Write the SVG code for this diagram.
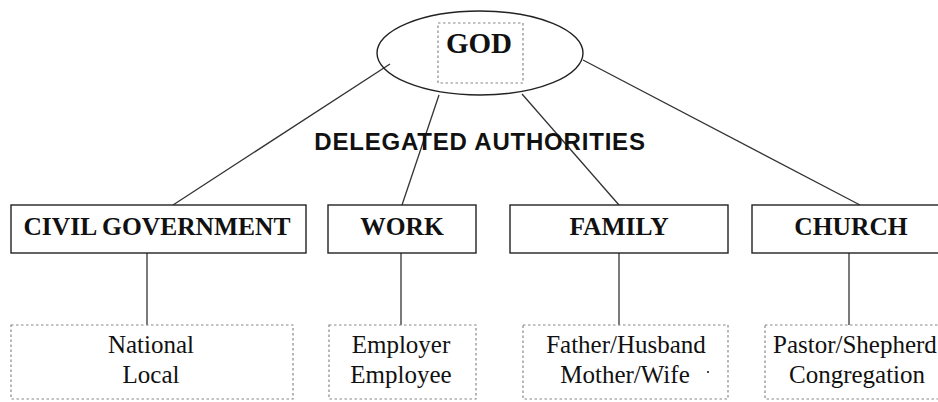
<svg xmlns="http://www.w3.org/2000/svg" width="938" height="402" viewBox="0 0 938 402">
<style>
.box{fill:#fff;stroke:#222;stroke-width:1.4}
.dot{fill:none;stroke:#888;stroke-width:1.2;stroke-dasharray:2.5 2.5}
.conn{stroke:#333;stroke-width:1.3;fill:none}
.hd{font-family:"Liberation Serif",serif;font-weight:bold;font-size:25.5px;fill:#111;text-anchor:middle}
.sub{font-family:"Liberation Serif",serif;font-size:25px;fill:#111;text-anchor:middle}
.title{font-family:"Liberation Sans",Arial,sans-serif;font-weight:bold;font-size:24px;fill:#111;text-anchor:middle;letter-spacing:0.8px}
</style>
<rect width="938" height="402" fill="#fff"/>
<g id="connectors">
<line class="conn" x1="390" y1="64" x2="173" y2="205"/>
<line class="conn" x1="439" y1="95" x2="402" y2="205"/>
<line class="conn" x1="522" y1="94" x2="619" y2="205"/>
<line class="conn" x1="583" y1="60" x2="860" y2="205"/>
<line class="conn" x1="147" y1="253" x2="147" y2="325"/>
<line class="conn" x1="401" y1="253" x2="401" y2="325"/>
<line class="conn" x1="619" y1="253" x2="619" y2="325"/>
<line class="conn" x1="849" y1="253" x2="849" y2="325"/>
</g>
<g id="god">
<ellipse cx="480" cy="53" rx="103" ry="42" fill="none" stroke="#222" stroke-width="1.4"/>
<rect class="dot" x="438" y="23" width="85" height="60"/>
<text class="hd" x="479" y="53" style="font-size:29px">GOD</text>
</g>
<g id="label">
<text class="title" x="480" y="150">DELEGATED AUTHORITIES</text>
</g>
<g id="civil">
<rect class="box" x="11" y="205" width="295" height="48"/>
<text class="hd" x="157" y="235">CIVIL GOVERNMENT</text>
</g>
<g id="work">
<rect class="box" x="328" y="205" width="148" height="48"/>
<text class="hd" x="402" y="235">WORK</text>
</g>
<g id="family">
<rect class="box" x="510" y="205" width="218" height="48"/>
<text class="hd" x="619" y="235">FAMILY</text>
</g>
<g id="church">
<rect class="box" x="752" y="205" width="200" height="48"/>
<text class="hd" x="851" y="235">CHURCH</text>
</g>
<g id="civil-sub">
<rect class="dot" x="11" y="325" width="282" height="74"/>
<text class="sub" x="151" y="353">National</text>
<text class="sub" x="151" y="383">Local</text>
</g>
<g id="work-sub">
<rect class="dot" x="329" y="325" width="147" height="74"/>
<text class="sub" x="401" y="353">Employer</text>
<text class="sub" x="401" y="383">Employee</text>
</g>
<g id="family-sub">
<rect class="dot" x="523" y="325" width="205" height="74"/>
<text class="sub" x="626" y="353">Father/Husband</text>
<text class="sub" x="625" y="383">Mother/Wife</text>
<circle cx="708" cy="372" r="1.1" fill="#222"/>
</g>
<g id="church-sub">
<rect class="dot" x="765" y="325" width="190" height="74"/>
<text class="sub" x="773" y="353" style="text-anchor:start">Pastor/Shepherd</text>
<text class="sub" x="857" y="383">Congregation</text>
</g>
</svg>
